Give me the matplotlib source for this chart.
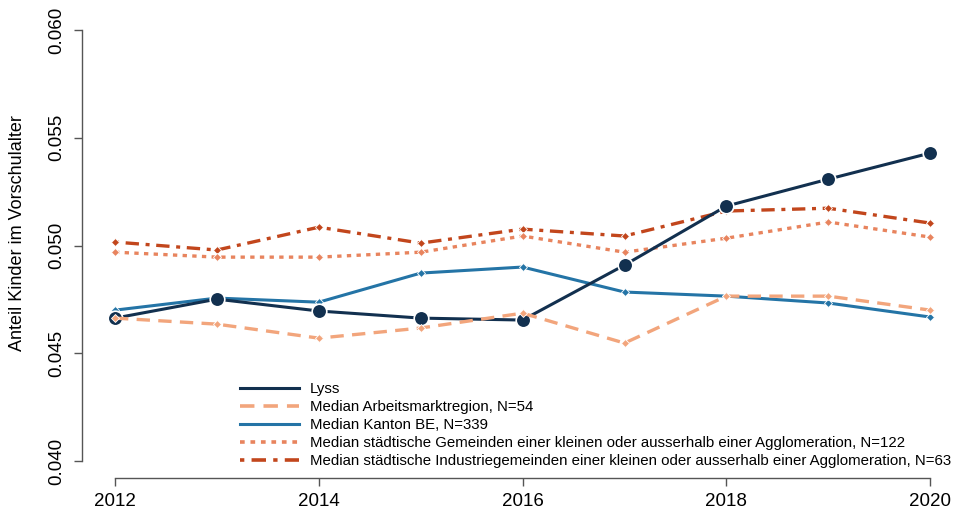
import matplotlib
matplotlib.use("Agg")
import matplotlib.pyplot as plt
from matplotlib.lines import Line2D

plt.rcParams['font.family'] = ['Liberation Sans', 'DejaVu Sans']

years = [2012, 2013, 2014, 2015, 2016, 2017, 2018, 2019, 2020]
lyss = [0.04663, 0.04751, 0.04696, 0.04663, 0.04654, 0.04909, 0.05183, 0.05308, 0.05429]
arbeitsmarkt = [0.04663, 0.04635, 0.04570, 0.04617, 0.04686, 0.04547, 0.04765, 0.04765, 0.04700]
kanton = [0.04700, 0.04756, 0.04737, 0.04872, 0.04900, 0.04784, 0.04765, 0.04733, 0.04668]
staedtisch = [0.04969, 0.04946, 0.04946, 0.04969, 0.05044, 0.04969, 0.05034, 0.05109, 0.05039]
industrie = [0.05016, 0.04979, 0.05085, 0.05011, 0.05076, 0.05044, 0.05160, 0.05173, 0.05104]

labels = ["Lyss",
          "Median Arbeitsmarktregion, N=54",
          "Median Kanton BE, N=339",
          "Median städtische Gemeinden einer kleinen oder ausserhalb einer Agglomeration, N=122",
          "Median städtische Industriegemeinden einer kleinen oder ausserhalb einer Agglomeration, N=63"]
yticks = [0.040, 0.045, 0.050, 0.055, 0.060]
xticks = [2012, 2014, 2016, 2018, 2020]

c_lyss = "#12304f"
c_arb = "#f2a57c"
c_kan = "#2474a6"
c_sta = "#e8845e"
c_ind = "#c2461c"

ls_arb = (0, (4.0, 2.5))
ls_sta = (0, (1.3, 1.6))
ls_ind = (0, (1.2, 2.0, 4.0, 2.0))

fig = plt.figure(figsize=(9.55, 5.14), dpi=100)
left_px, bottom_px, top_px = 82.4, 478.2, 12.8
ax = fig.add_axes([left_px / 955, 1 - bottom_px / 514, 1 - left_px / 955, (bottom_px - top_px) / 514])

ax.plot(years, industrie, color=c_ind, lw=2.4, linestyle=ls_ind,
        marker='D', ms=4.5, mec='white', mew=0.6, zorder=2)
ax.plot(years, staedtisch, color=c_sta, lw=2.4, linestyle=ls_sta,
        marker='D', ms=4.5, mec='white', mew=0.6, zorder=2)
ax.plot(years, kanton, color=c_kan, lw=2.2, linestyle='-',
        marker='D', ms=4.5, mec='white', mew=0.6, zorder=3)
ax.plot(years, lyss, color=c_lyss, lw=2.2, linestyle='-',
        marker='o', ms=10.5, mec='white', mew=1.2, zorder=4)
ax.plot(years, arbeitsmarkt, color=c_arb, lw=2.4, linestyle=ls_arb,
        marker='D', ms=4.5, mec='white', mew=0.6, zorder=5)

ax.set_xlim(2011.68, 2011.68 + (955 - left_px) / 101.9)
ax.set_ylim(0.0392, 0.0608)

for s in ['top', 'right']:
    ax.spines[s].set_visible(False)
ax.spines['left'].set_bounds(0.040, 0.060)
ax.spines['bottom'].set_bounds(2012, 2020)
for s in ['left', 'bottom']:
    ax.spines[s].set_color('#555555')
    ax.spines[s].set_linewidth(1.0)

ax.set_yticks(yticks)
ax.set_yticklabels([f"{v:.3f}" for v in yticks], rotation=90, va='center', fontsize=13.5)
ax.set_xticks(xticks)
ax.set_xticklabels([str(v) for v in xticks], fontsize=13.5)
ax.tick_params(axis='both', direction='out', length=6, width=1.0, color='#555555', pad=5)
ax.tick_params(axis='y', pad=6)

fig.text(18 / 955, 1 - 233 / 514, "Anteil Kinder im Vorschulalter", rotation=90,
         ha='center', va='center', fontsize=13)

leg_handles = [
    Line2D([0], [0], color=c_lyss, lw=2.2, linestyle='-'),
    Line2D([0], [0], color=c_arb, lw=2.6, linestyle=ls_arb),
    Line2D([0], [0], color=c_kan, lw=2.2, linestyle='-'),
    Line2D([0], [0], color=c_sta, lw=2.6, linestyle=ls_sta),
    Line2D([0], [0], color=c_ind, lw=2.6, linestyle=ls_ind),
]
leg = ax.legend(leg_handles, labels, loc='upper left',
                bbox_to_anchor=((240 - left_px) / (955 - left_px), 1 - (382 - top_px) / (bottom_px - top_px)),
                frameon=False, fontsize=10.8, handlelength=3.9, handletextpad=0.75,
                labelspacing=0.27, borderaxespad=0, borderpad=0)

fig.savefig("out.png", dpi=100)
